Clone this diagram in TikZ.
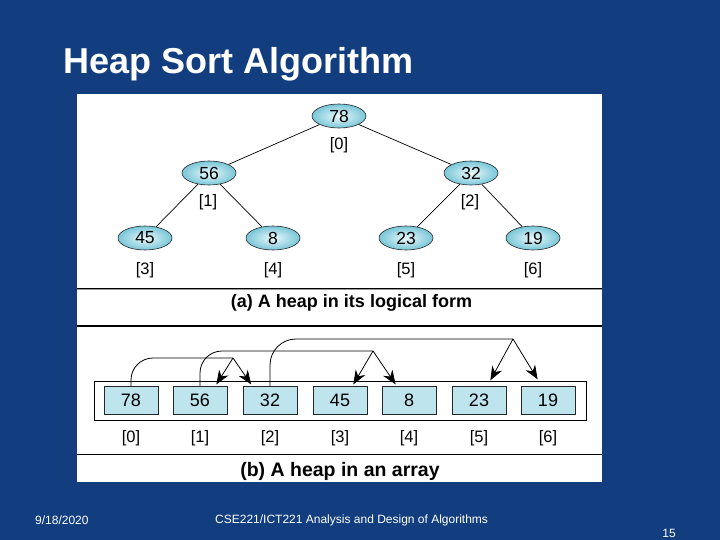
\documentclass[tikz,border=0pt]{standalone}
\usepackage{fontspec}
\setmainfont{Liberation Sans}
\usetikzlibrary{shapes.geometric,arrows.meta,calc}
\definecolor{slideblue}{RGB}{18,62,128}
\definecolor{cellblue}{RGB}{190,228,238}
\definecolor{nodelight}{RGB}{235,249,251}
\definecolor{nodedark}{RGB}{120,198,216}
\tikzset{
  heapnode/.style={ellipse, draw=black!85, line width=0.6bp, inner color=nodelight, outer color=nodedark,
    minimum width=54bp, minimum height=24bp, inner sep=0pt, font=\fontsize{17.5bp}{19bp}\selectfont},
  cellbox/.style={rectangle, draw=black!85, line width=0.7bp, fill=cellblue, minimum width=54bp,
    minimum height=27.5bp, inner sep=0pt, font=\fontsize{18bp}{20bp}\selectfont},
  idx/.style={inner sep=0pt, font=\fontsize{16.5bp}{18bp}\selectfont},
  caption/.style={inner sep=0pt, font=\fontsize{18bp}{20bp}\selectfont\bfseries},
  footer/.style={inner sep=0pt, text=white, font=\fontsize{12bp}{14bp}\selectfont},
  heaparrow/.style={-{Stealth[length=14bp, width=11bp, inset=4.5bp]}, line width=0.8bp}
}
\begin{document}
\begin{tikzpicture}[x=1bp, y=-1bp]
  \fill[slideblue] (0,0) rectangle (720,540);
  \useasboundingbox (0,0) rectangle (720,540);
  % Header
  \node (title) [anchor=base west, inner sep=0pt, text=white, font=\fontsize{36bp}{40bp}\selectfont\bfseries] at (63.5,73.3) {Heap Sort Algorithm};
  % Panel
  \fill[white] (77,94) rectangle (602,482);
  \draw[black!40, line width=0.8bp] (77,289.8) -- (602,289.8);
  \draw[line width=1.1bp] (77,288.4) -- (602,288.4);
  \draw[line width=1.1bp] (77,326) -- (602,326);
  \draw[line width=1.1bp] (77,454.5) -- (602,454.5);
  % Nodes (logical form)
  \node (n0) [heapnode] at (339,116) {78};
  \node (n1) [heapnode] at (209,173) {56};
  \node (n2) [heapnode] at (471,173) {32};
  \node (n3) [heapnode] at (145,238) {45};
  \node (n4) [heapnode] at (273,238) {8};
  \node (n5) [heapnode] at (406,238) {23};
  \node (n6) [heapnode] at (533,238) {19};
  \node (i0) [idx] at (339,145) {[0]};
  \node (i1) [idx] at (208,202) {[1]};
  \node (i2) [idx] at (470,202) {[2]};
  \node (i3) [idx] at (145,270) {[3]};
  \node (i4) [idx] at (273,270) {[4]};
  \node (i5) [idx] at (406,270) {[5]};
  \node (i6) [idx] at (533,270) {[6]};
  % Edges
  \draw[line width=0.7bp] (n0) -- (n1);
  \draw[line width=0.7bp] (n0) -- (n2);
  \draw[line width=0.7bp] (n1) -- (n3);
  \draw[line width=0.7bp] (n1) -- (n4);
  \draw[line width=0.7bp] (n2) -- (n5);
  \draw[line width=0.7bp] (n2) -- (n6);
  \node (capa) [caption] at (351.5,303) {(a) A heap in its logical form};
  % Nodes (array)
  \node (arr) [draw, line width=0.8bp, minimum width=492bp, minimum height=39bp, inner sep=0pt] at (340,400.5) {};
  \node (c0) [cellbox] at (131,400.5) {78};
  \node (c1) [cellbox] at (200,400.5) {56};
  \node (c2) [cellbox] at (270,400.5) {32};
  \node (c3) [cellbox] at (340,400.5) {45};
  \node (c4) [cellbox] at (409,400.5) {8};
  \node (c5) [cellbox] at (479,400.5) {23};
  \node (c6) [cellbox] at (548,400.5) {19};
  \node (a0) [idx] at (131,438) {[0]};
  \node (a1) [idx] at (200,438) {[1]};
  \node (a2) [idx] at (270,438) {[2]};
  \node (a3) [idx] at (340,438) {[3]};
  \node (a4) [idx] at (409,438) {[4]};
  \node (a5) [idx] at (479,438) {[5]};
  \node (a6) [idx] at (548,438) {[6]};
  \node (capb) [caption, font=\fontsize{19.5bp}{21bp}\selectfont\bfseries] at (340,471) {(b) A heap in an array};
  % Arrow
  \coordinate (j0) at (233,358);
  \coordinate (j1) at (373,351);
  \coordinate (j2) at (513,339);
  \coordinate (t1) at ($(c1.north east)+(-11,-2)$);
  \coordinate (t2) at ($(c2.north west)+(8.5,-2)$);
  \coordinate (t3) at ($(c3.north east)+(-14,-2)$);
  \coordinate (t4) at ($(c4.north west)+(14,-2)$);
  \coordinate (t5) at ($(c5.north east)+(-16,-6)$);
  \coordinate (t6) at ($(c6.north west)+(17,-7)$);
  \draw[line width=0.8bp, rounded corners=22bp] (c0.north) |- (j0);
  \draw[line width=0.8bp, rounded corners=22bp] (c1.north) |- (j1);
  \draw[line width=0.8bp, rounded corners=26bp] (c2.north) |- (j2);
  \draw[heaparrow] (j0) -- (t1);
  \draw[heaparrow] (j0) -- (t2);
  \draw[heaparrow] (j1) -- (t3);
  \draw[heaparrow] (j1) -- (t4);
  \draw[heaparrow] (j2) -- (t5);
  \draw[heaparrow] (j2) -- (t6);
  % Footer
  \node (date) [footer, anchor=west] at (35,520) {9/18/2020};
  \node (course) [footer, anchor=west] at (215,520) {CSE221/ICT221 Analysis and Design of Algorithms};
  \node (page) [footer] at (669,533) {15};
\end{tikzpicture}
\end{document}
